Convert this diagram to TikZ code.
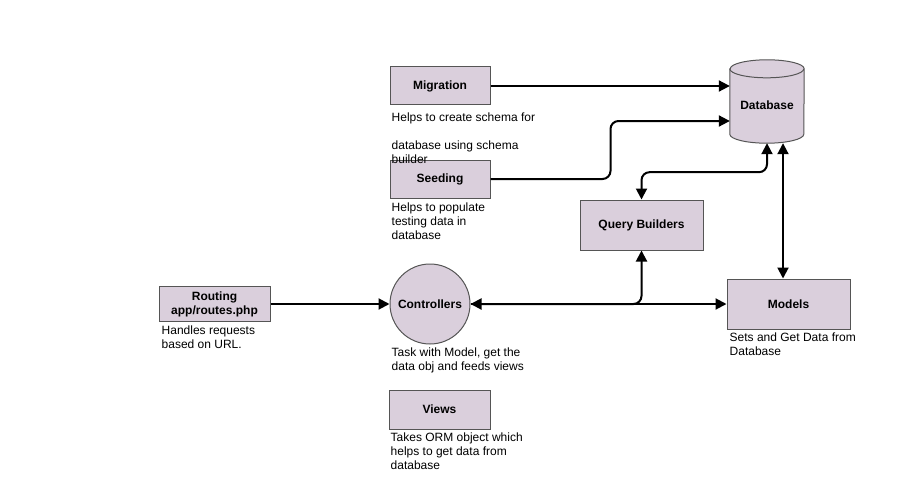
\documentclass[tikz,border=0pt]{standalone}
\usepackage{fontspec}
\setmainfont{Liberation Sans}
\usepackage{xcolor}
\usetikzlibrary{arrows.meta, positioning}
\definecolor{boxfill}{RGB}{218,207,220}
\definecolor{boxline}{RGB}{85,85,85}

\begin{document}
\begin{tikzpicture}[x=1pt, y=-1pt,
    box/.style={draw=boxline, fill=boxfill, line width=1pt, inner sep=0pt, font=\fontsize{12}{14}\selectfont\bfseries},
    desc/.style={inner sep=0pt, align=left, font=\fontsize{12}{14}\selectfont},
    link/.style={line width=2pt, -{Triangle[length=11pt,width=11pt]}},
    both/.style={line width=2pt, {Triangle[length=11pt,width=11pt]}-{Triangle[length=11pt,width=11pt]}}]
    \useasboundingbox (0,0) rectangle (901,492);

    \node (mig) [box, minimum width=100pt, minimum height=38pt] at (440,86) {Migration};
    \node (seed) [box, minimum width=100pt, minimum height=38pt] at (440,179) {Seeding};
    \node (qb) [box, minimum width=123pt, minimum height=50pt] at (641.5,225) {Query Builders};
    \node (models) [box, minimum width=123pt, minimum height=50pt] at (788.5,304) {Models};
    \node (route) [box, minimum width=111pt, minimum height=35pt, align=center] at (214.5,304) {Routing\\app/routes.php};
    \node (ctrl) [box, circle, minimum size=80pt] at (430,304) {Controllers};
    \node (views) [box, minimum width=101pt, minimum height=39pt] at (439.5,409.5) {Views};

    % Database cylinder
    \node (db) [minimum width=74pt, minimum height=83pt, inner sep=0pt] at (767,101.5) {};
    \draw[draw=boxline, fill=boxfill, line width=1pt] ([yshift=-9pt]db.north west) -- ([yshift=9pt]db.south west)
        arc[start angle=180, end angle=360, x radius=37pt, y radius=9pt] -- ([yshift=-9pt]db.north east)
        arc[start angle=0, end angle=180, x radius=37pt, y radius=9pt] -- cycle;
    \draw[draw=boxline, line width=1pt] ([yshift=-9pt]db.north west) arc[start angle=180, end angle=360, x radius=37pt, y radius=9pt];
    \node (dblabel) [font=\fontsize{12}{14}\selectfont\bfseries] at ([yshift=-4pt]db.center) {Database};

    % Notes
    \node (migtext) [desc, below right=7pt and 2pt of mig.south west] {Helps to create schema for\\[14pt]database using schema\\builder};
    \node (seedtext) [desc, below right=4pt and 2pt of seed.south west] {Helps to populate\\testing data in\\database};
    \node (routetext) [desc, below right=3.5pt and 3pt of route.south west] {Handles requests\\based on URL.};
    \coordinate (ctrlsw) at (ctrl.south -| ctrl.west);
    \node (ctrltext) [desc, below right=3.5pt and 2pt of ctrlsw] {Task with Model, get the\\data obj and feeds views};
    \node (viewstext) [desc, below right=3.5pt and 2pt of views.south west] {Takes ORM object which\\helps to get data from\\database};
    \node (modelstext) [desc, below right=3.5pt and 3pt of models.south west] {Sets and Get Data from\\Database};

    % Connections
    \coordinate (dbr) at ([xshift=16pt]db.south);
    \draw[link] (mig.east) -- (mig.east -| db.west);
    \draw[link, rounded corners=8pt] (seed.east) -- ++(120,0) |- ([yshift=-19.5pt]db.west);
    \draw[both, rounded corners=8pt] (db.south) -- ++(0,29) -| (qb.north);
    \draw[both] (dbr) -- (dbr |- models.north);
    \draw[link] (route.east) -- (ctrl.west);
    \draw[both, rounded corners=8pt] (ctrl.east) -| (qb.south);
    \draw[link] (ctrl.east) -- (models.west);
\end{tikzpicture}
\end{document}
